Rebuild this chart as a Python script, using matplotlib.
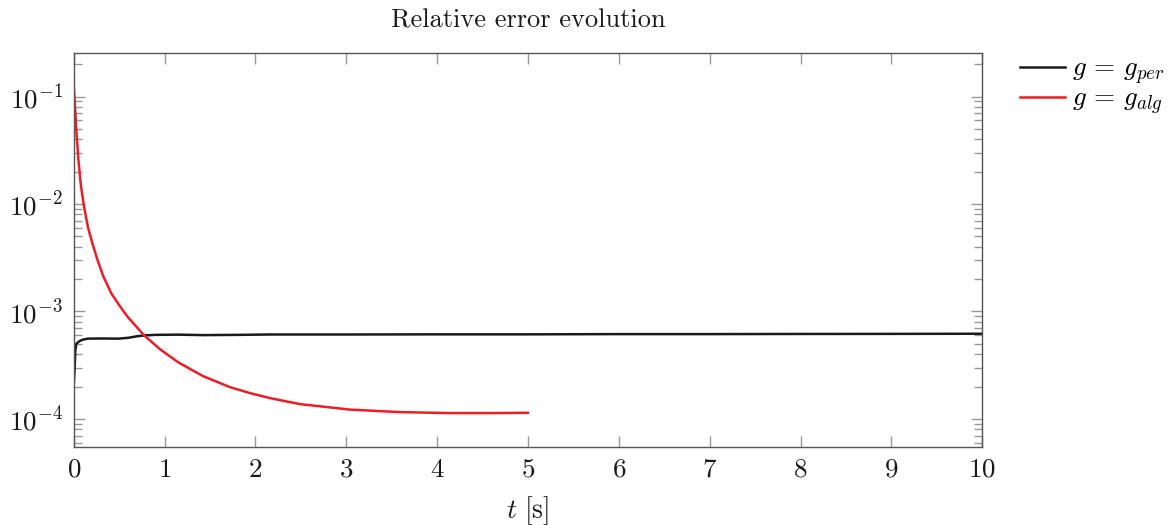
import matplotlib
matplotlib.use('Agg')
import matplotlib.pyplot as plt
from matplotlib.ticker import LogLocator, NullFormatter, MultipleLocator

plt.rcParams['font.family'] = 'serif'
plt.rcParams['font.serif'] = ['cmr10']
plt.rcParams['mathtext.fontset'] = 'cm'
plt.rcParams['axes.formatter.use_mathtext'] = True
plt.rcParams['axes.unicode_minus'] = False

# relative error, periodic g
t_per = [0.0, 0.003, 0.01, 0.0176, 0.0286, 0.0418, 0.066, 0.1024, 0.157, 0.3, 0.49, 0.6,
         0.7, 0.78, 0.9, 1.06, 1.15, 1.43, 1.8, 2.16, 3.0, 4.0, 5.0, 6.0, 7.0, 8.0, 9.0, 10.0]
err_per = [2.1e-4, 2.26e-4, 2.9e-4, 4.31e-4, 5.0e-4, 5.11e-4, 5.31e-4, 5.47e-4, 5.58e-4,
           5.6e-4, 5.58e-4, 5.68e-4, 5.88e-4, 5.98e-4, 6.05e-4, 6.07e-4, 6.08e-4, 6.02e-4,
           6.05e-4, 6.1e-4, 6.1e-4, 6.12e-4, 6.12e-4, 6.15e-4, 6.15e-4, 6.17e-4, 6.18e-4, 6.2e-4]

# relative error, algebraic g
t_alg = [0.0, 0.0165, 0.0319, 0.0517, 0.0781, 0.1134, 0.1574, 0.2124, 0.2675, 0.3258,
         0.4138, 0.5096, 0.5976, 0.7737, 0.9498, 1.1479, 1.4231, 1.7202, 1.9403, 2.1605,
         2.4906, 3.0409, 3.5912, 4.1415, 4.5817, 5.0]
err_alg = [0.1285, 0.0752, 0.0441, 0.02584, 0.01514, 9.46e-3, 6.04e-3, 4.11e-3, 2.92e-3,
           2.12e-3, 1.473e-3, 1.115e-3, 8.82e-4, 6.0e-4, 4.45e-4, 3.37e-4, 2.5e-4, 1.973e-4,
           1.737e-4, 1.56e-4, 1.372e-4, 1.22e-4, 1.156e-4, 1.132e-4, 1.132e-4, 1.139e-4]

fig = plt.figure(figsize=(11.7, 5.25), dpi=100)
ax = fig.add_axes([0.063, 0.149, 0.7766, 0.7507])

ax.plot(t_per, err_per, color='#1a1a1a', lw=1.8, label=r'$g \,=\, g_{per}$')
ax.plot(t_alg, err_alg, color='#ee1c25', lw=1.8, label=r'$g \,=\, g_{alg}$')

ax.set_yscale('log')
ax.set_xlim(0, 10)
ax.set_ylim(5.5e-5, 0.256)
ax.xaxis.set_major_locator(MultipleLocator(1))
ax.yaxis.set_major_locator(LogLocator(base=10, numticks=10))
ax.yaxis.set_minor_locator(LogLocator(base=10, subs=range(2, 10), numticks=20))
ax.yaxis.set_minor_formatter(NullFormatter())

for s in ax.spines.values():
    s.set_color('#555555')
    s.set_linewidth(1.0)
ax.tick_params(which='both', direction='in', top=True, right=True, color='#999999',
               labelsize=19.5, labelcolor='#1a1a1a')
ax.tick_params(which='major', length=8, width=1.0, pad=8)
ax.tick_params(which='minor', length=5.5, width=1.0)

ax.set_title('Relative error evolution', fontsize=19, color='#1a1a1a', pad=18)
ax.set_xlabel(r'$t\ \mathrm{[s]}$', fontsize=20, color='#1a1a1a', labelpad=9)

leg = ax.legend(loc='upper left', bbox_to_anchor=(1.0415, 0.987), frameon=False, fontsize=19.5,
                handlelength=1.67, handletextpad=0.26, labelspacing=0.0, borderaxespad=0,
                borderpad=0)

fig.savefig('out.png', dpi=100)
